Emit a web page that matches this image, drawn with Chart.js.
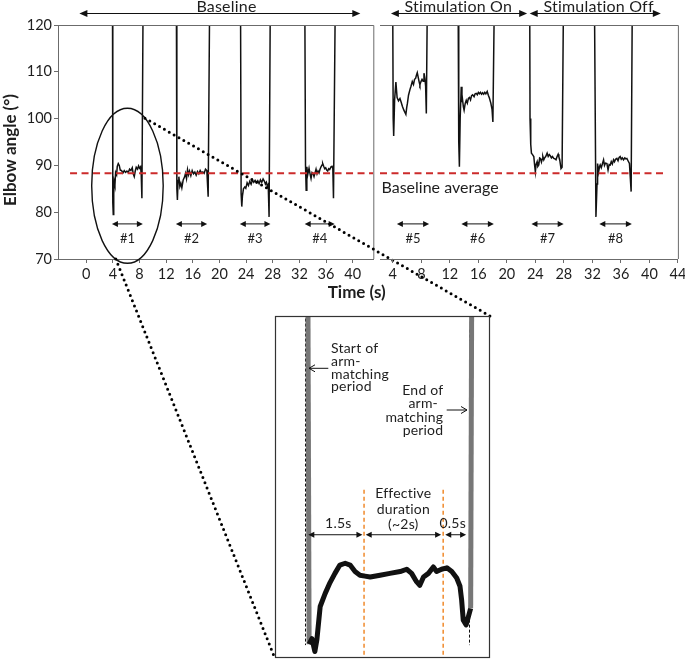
<!DOCTYPE html>
<html><head><meta charset="utf-8">
<script src="https://cdn.jsdelivr.net/npm/chart.js@4.4.1/dist/chart.umd.min.js"></script>
<style>
html,body{margin:0;padding:0;background:#fff;}
#wrap{position:relative;width:685px;height:660px;overflow:hidden;}
canvas{position:absolute;left:0;top:0;}
</style></head><body>
<div id="wrap">
<canvas id="cL" width="685" height="660"></canvas>
<canvas id="cR" width="685" height="660"></canvas>
<canvas id="cI" width="685" height="660"></canvas>
</div>
<script>
// ---------------- DATA ----------------
const yTicks = [70, 80, 90, 100, 110, 120];
const baselineTicks = [0, 4, 8, 12, 16, 20, 24, 28, 32, 36, 40];
const stimTicks = [4, 8, 12, 16, 20, 24, 28, 32, 36, 40, 44];
const baselineAverage = 88.3;

// Baseline trials (#1-#4)
const trial1Time = [3.93,3.98,4.05,4.12,4.2,4.3,4.4,4.55,4.65,4.8,4.95,5.1,5.3,5.5,5.7,5.9,6.1,6.3,6.5,6.7,6.9,7.05,7.2,7.35,7.5,7.7,7.85,8.0,8.15,8.25,8.35,8.55];
const trial1Angle = [130,82,79.5,84,86.5,85.8,88.5,88.0,89.8,90.4,90.0,89.0,88.9,88.4,88.9,88.5,88.8,88.5,89.2,88.9,89.5,88.2,87.6,88.8,89.6,89.2,89.9,89.4,89.7,88.0,83.0,130];
const trial2Time = [13.52,13.6,13.68,13.78,13.9,14.05,14.2,14.35,14.55,14.75,14.9,15.05,15.2,15.35,15.5,15.7,15.9,16.1,16.3,16.5,16.7,16.9,17.1,17.3,17.5,17.7,17.9,18.1,18.3,18.55];
const trial2Angle = [130,85,82.6,86.8,87.6,85.5,86.2,85.2,86.9,87.5,88.3,87.2,89.1,88.0,88.8,87.8,88.9,88.2,88.6,87.9,88.7,88.2,88.9,88.4,88.6,88.3,89.2,88.9,83.3,130];
const trial3Time = [23.15,23.25,23.35,23.45,23.6,23.8,23.95,24.15,24.35,24.55,24.75,24.95,25.15,25.35,25.55,25.75,25.95,26.15,26.35,26.55,26.75,26.9,27.05,27.2,27.32,27.45,27.65];
const trial3Angle = [130,84,81.2,83.5,85.0,85.4,85.1,86.3,85.7,86.6,86.0,86.9,86.4,86.8,86.3,86.7,86.1,86.9,86.4,87.1,86.6,86.0,86.4,85.5,85.9,79.0,130];
const trial4Time = [32.8,32.92,33.02,33.12,33.25,33.45,33.6,33.75,33.9,34.05,34.2,34.35,34.5,34.65,34.8,34.95,35.1,35.25,35.4,35.5,35.65,35.8,35.95,36.1,36.25,36.4,36.55,36.75,36.9,37.02,37.12,37.42];
const trial4Angle = [130,90,84.7,89.7,88.0,89.4,88.2,87.2,88.5,88.3,87.6,88.4,89.2,88.2,88.8,88.4,89.2,89.7,90.1,90.4,89.8,89.3,89.5,89.0,88.8,89.3,89.1,89.7,89.8,89.4,83.0,130];

// Stimulation trials (#5-#8)
const trial5Time = [3.97,4.05,4.12,4.25,4.43,4.6,4.8,5.0,5.15,5.35,5.55,5.7,5.83,5.95,6.05,6.2,6.4,6.55,6.73,6.9,7.05,7.2,7.3,7.43,7.55,7.7,7.8,7.95,8.1,8.25,8.37,8.5,8.6,8.7,8.87];
const trial5Angle = [130,100,96.3,104,107.8,104.5,103.8,104.3,103.6,102.6,101.8,101.3,100.9,102.4,103.3,105.0,106.2,106.9,107.9,107.3,108.4,108.6,109.2,109.8,108.9,107.8,107.2,107.9,108.4,108.0,109.7,108.6,107.0,101.1,130];
const trial6Time = [13.15,13.25,13.34,13.45,13.6,13.7,13.77,13.9,14.0,14.15,14.3,14.45,14.6,14.75,14.9,15.05,15.2,15.4,15.55,15.7,15.85,16.0,16.15,16.3,16.45,16.6,16.75,16.9,17.05,17.24,17.4,17.55,17.75,17.92,18.04,18.28];
const trial6Angle = [130,95,89.7,100,106.8,103.5,104.2,102.5,101.8,103.2,103.9,103.3,104.3,104.5,104.0,104.9,105.1,104.7,105.3,105.4,105.1,105.6,105.3,105.6,105.2,105.5,105.2,105.6,105.3,105.8,105.0,104.4,103.3,102.0,99.3,130];
const trial7Time = [23.2,23.25,23.35,23.45,23.6,23.78,23.9,24.0,24.1,24.25,24.35,24.48,24.6,24.71,24.85,24.95,25.05,25.18,25.3,25.45,25.65,25.8,25.95,26.11,26.25,26.4,26.58,26.75,26.9,27.05,27.2,27.3,27.41,27.6,27.75,27.97];
const trial7Angle = [130,100,94.5,92.6,92.3,91.9,90.0,88.6,90.2,90.8,89.8,90.1,91.6,91.5,90.7,91.3,91.9,91.2,91.6,91.9,92.6,91.9,92.3,92.0,91.6,91.9,91.5,91.4,91.2,91.9,92.4,91.8,91.3,89.3,89.6,130];
const trial8Time = [32.27,32.5,32.65,32.73,32.87,33.0,33.1,33.25,33.4,33.57,33.7,33.85,34.04,34.2,34.35,34.5,34.65,34.8,34.97,35.1,35.25,35.44,35.6,35.75,35.9,36.05,36.2,36.37,36.55,36.7,36.84,37.0,37.2,37.44,37.62];
const trial8Angle = [130,79.0,86,90.4,88.6,89.7,90.1,89.5,90.3,91.2,90.0,90.5,90.4,89.0,90.2,90.1,90.8,90.3,91.2,90.8,91.3,91.5,91.0,91.7,91.9,91.3,91.6,91.2,91.6,91.4,91.5,91.0,90.4,84.4,130];

// trial period markers (double arrows) and labels
const baselineTrialLabels = ['#1', '#2', '#3', '#4'];
const baselineTrialFrom = [3.85, 13.45, 23.05, 32.8];
const baselineTrialTo = [8.5, 18.15, 27.65, 37.3];
const stimTrialLabels = ['#5', '#6', '#7', '#8'];
const stimTrialFrom = [4.57, 13.62, 23.45, 32.97];
const stimTrialTo = [9.09, 18.18, 27.97, 37.54];
const trialArrowAngle = 77.5;
const trialLabelAngle = 74.4;

// phases
const leftPhaseLabels = ['Baseline'];
const leftPhaseFrom = [-1.04];
const leftPhaseTo = [41.15];
const leftPhaseCenter = [21.05];
const rightPhaseLabels = ['Stimulation On', 'Stimulation Off'];
const rightPhaseFrom = [3.73, 23.2];
const rightPhaseTo = [22.85, 41.6];
const rightPhaseCenter = [13.18, 32.87];

// zoom ellipse around trial #1 (centre time/angle, radii time/angle)
const ellipseCentre = [6.18, 85.64];
const ellipseRadii = [5.37, 16.56];

// inset: trial #1 blown up (time from start of arm-matching, s)
const insetTime = [0.066,0.1,0.17,0.24,0.29,0.37,0.49,0.61,0.73,0.85,0.98,1.10,1.22,1.34,1.46,1.59,1.83,2.07,2.32,2.48,2.60,2.72,2.80,2.89,3.01,3.13,3.21,3.33,3.46,3.58,3.70,3.78,3.82,3.86,3.93,4.04,4.07];
const insetAngle = [125,80.6,81.2,79.8,81.1,84.7,86.1,87.3,88.3,89.2,89.4,89.2,88.5,88.1,88.0,87.9,88.1,88.3,88.5,88.75,88.3,87.4,87.0,87.9,88.3,89.0,88.5,88.75,88.9,88.5,87.8,86.9,85.4,83.2,82.7,84.5,125];
const insetPeriodBounds = [0, 4.0];
const insetEffectiveBounds = [1.44, 3.37];
const insetSpanFrom = [0.08, 1.48, 3.42];
const insetSpanTo = [1.40, 3.32, 3.93];

// ---------------- HELPERS ----------------
const FRAME = '#6b6b6b';
const TXT = '#1e1e1e';
const FONT = 'Lato, "Open Sans", sans-serif';
const toPts = (ts, vs) => ts.map((t, i) => ({x: t, y: vs[i]}));
const baselinePts = [].concat(toPts(trial1Time, trial1Angle), toPts(trial2Time, trial2Angle), toPts(trial3Time, trial3Angle), toPts(trial4Time, trial4Angle));
const stimPts = [].concat(toPts(trial5Time, trial5Angle), toPts(trial6Time, trial6Angle), toPts(trial7Time, trial7Angle), toPts(trial8Time, trial8Angle));

function noLig(ctx) { try { ctx.letterSpacing = '0.2px'; } catch (e) {} }
function head(ctx, x, y, dir, L, H) {
  ctx.beginPath(); ctx.moveTo(x, y); ctx.lineTo(x - dir * L, y - H); ctx.lineTo(x - dir * L, y + H); ctx.closePath(); ctx.fill();
}
function dblArrow(ctx, x1, x2, y, L, H) {
  ctx.beginPath(); ctx.moveTo(x1 + L * 0.6, y); ctx.lineTo(x2 - L * 0.6, y); ctx.stroke();
  head(ctx, x1, y, -1, L, H); head(ctx, x2, y, 1, L, H);
}
function openArrow(ctx, xFrom, xTo, y) {
  const dir = xTo > xFrom ? 1 : -1;
  ctx.beginPath(); ctx.moveTo(xFrom, y); ctx.lineTo(xTo, y);
  ctx.moveTo(xTo - dir * 6, y - 3.5); ctx.lineTo(xTo, y); ctx.lineTo(xTo - dir * 6, y + 3.5);
  ctx.stroke();
}
function xAxis(min, max, ticks) {
  return {type: 'linear', min, max,
    afterBuildTicks: s => { s.ticks = ticks.map(v => ({value: v})); },
    afterFit: s => { s.height = 30; s.paddingLeft = 0; s.paddingRight = 0; },
    grid: {display: true, drawOnChartArea: false, drawTicks: true, tickLength: 4, color: FRAME, lineWidth: 1},
    border: {display: true, color: FRAME, width: 1},
    ticks: {font: {family: FONT, size: 14.5}, color: TXT, padding: 3, maxRotation: 0, autoSkip: false}};
}
function trialMarks(ctx, chart, from, to, labels) {
  const xs = chart.scales.x, ys = chart.scales.y;
  ctx.save();
  ctx.strokeStyle = '#111'; ctx.fillStyle = '#111'; ctx.lineWidth = 1;
  const ya = ys.getPixelForValue(trialArrowAngle), yl = ys.getPixelForValue(trialLabelAngle);
  ctx.font = '13px ' + FONT; ctx.textAlign = 'center'; ctx.textBaseline = 'middle';
  from.forEach((f, i) => {
    const x1 = xs.getPixelForValue(f), x2 = xs.getPixelForValue(to[i]);
    dblArrow(ctx, x1, x2, ya, 6, 3);
    ctx.fillStyle = TXT; ctx.fillText(labels[i], (x1 + x2) / 2, yl); ctx.fillStyle = '#111';
  });
  ctx.restore();
}
function phaseMarks(ctx, chart, labels, from, to, centre) {
  const xs = chart.scales.x, top = chart.chartArea.top;
  ctx.save();
  ctx.strokeStyle = '#111'; ctx.fillStyle = '#111'; ctx.lineWidth = 1;
  labels.forEach((lab, i) => {
    dblArrow(ctx, xs.getPixelForValue(from[i]), xs.getPixelForValue(to[i]), top - 11.5, 8, 3.5);
    ctx.fillStyle = TXT; ctx.font = '16px ' + FONT; ctx.textAlign = 'center'; ctx.textBaseline = 'alphabetic';
    noLig(ctx);
    ctx.fillText(lab, xs.getPixelForValue(centre[i]), top - 13); ctx.fillStyle = '#111';
  });
  ctx.restore();
}

const INSET = {left: 275, top: 316, right: 490, bottom: 658};

// ---------------- LEFT PANEL ----------------
const leftPlugin = {
  id: 'leftDeco',
  afterDraw(chart) {
    const ctx = chart.ctx, a = chart.chartArea, xs = chart.scales.x, ys = chart.scales.y;
    ctx.save();
    ctx.strokeStyle = FRAME; ctx.lineWidth = 1;
    ctx.beginPath(); ctx.moveTo(a.left, a.top + 0.5); ctx.lineTo(a.right + 0.5, a.top + 0.5); ctx.lineTo(a.right + 0.5, a.bottom); ctx.stroke();
    ctx.restore();
    trialMarks(ctx, chart, baselineTrialFrom, baselineTrialTo, baselineTrialLabels);
    phaseMarks(ctx, chart, leftPhaseLabels, leftPhaseFrom, leftPhaseTo, leftPhaseCenter);
    // ellipse
    const cx = xs.getPixelForValue(ellipseCentre[0]), cy = ys.getPixelForValue(ellipseCentre[1]);
    const rx = xs.getPixelForValue(ellipseCentre[0] + ellipseRadii[0]) - cx;
    const ry = cy - ys.getPixelForValue(ellipseCentre[1] + ellipseRadii[1]);
    ctx.save();
    ctx.strokeStyle = '#111'; ctx.lineWidth = 1.4;
    ctx.beginPath(); ctx.ellipse(cx, cy, rx, ry, 0, 0, Math.PI * 2); ctx.stroke();
    // dotted connectors
    ctx.lineWidth = 3; ctx.lineCap = 'round'; ctx.setLineDash([0, 5.6]); ctx.strokeStyle = '#000';
    const a1 = 60.7 * Math.PI / 180, a2 = -109 * Math.PI / 180;
    ctx.beginPath();
    ctx.moveTo(cx + rx * Math.cos(a1), cy - ry * Math.sin(a1)); ctx.lineTo(INSET.right, INSET.top);
    ctx.moveTo(cx + rx * Math.cos(a2), cy - ry * Math.sin(a2)); ctx.lineTo(INSET.left - 1, INSET.bottom - 2);
    ctx.stroke();
    ctx.restore();
    // axis titles
    ctx.save();
    ctx.fillStyle = TXT; ctx.font = 'bold 17px ' + FONT;
    ctx.textAlign = 'center'; ctx.textBaseline = 'alphabetic';
    ctx.fillText('Time (s)', 356.7, 297.5);
    ctx.translate(11, 150); ctx.rotate(-Math.PI / 2);
    ctx.textBaseline = 'middle';
    ctx.fillText('Elbow angle (°)', 0, 0);
    ctx.restore();
  }
};

const chartL = new Chart(document.getElementById('cL'), {
  type: 'line',
  data: {datasets: [
    {data: [{x: -2.44, y: baselineAverage}, {x: 43.1, y: baselineAverage}], borderColor: '#cc2b2b', borderWidth: 2, borderDash: [7, 4.5], pointRadius: 0},
    {data: baselinePts, borderColor: '#111', borderWidth: 1.5, pointRadius: 0, tension: 0}
  ]},
  options: {
    responsive: false, animation: false, events: [],
    layout: {padding: {left: 0, top: 25, right: 311.7, bottom: 371}},
    plugins: {legend: {display: false}, tooltip: {enabled: false}},
    scales: {
      x: xAxis(-4.25, 43.1, baselineTicks),
      y: {type: 'linear', min: 70, max: 120,
        afterBuildTicks: s => { s.ticks = yTicks.map(v => ({value: v})); },
        afterFit: s => { s.width = 58; s.paddingTop = 0; s.paddingBottom = 0; },
        grid: {display: true, drawOnChartArea: false, drawTicks: true, tickLength: 4, color: FRAME},
        border: {display: true, color: FRAME, width: 1},
        ticks: {font: {family: FONT, size: 14.5}, color: TXT, padding: 2}}
    }
  },
  plugins: [leftPlugin]
});

// ---------------- RIGHT PANEL ----------------
const rightPlugin = {
  id: 'rightDeco',
  afterDraw(chart) {
    const ctx = chart.ctx, a = chart.chartArea, xs = chart.scales.x, ys = chart.scales.y;
    ctx.save();
    ctx.strokeStyle = FRAME; ctx.lineWidth = 1;
    ctx.beginPath(); ctx.moveTo(a.left, a.top + 0.5); ctx.lineTo(a.right + 0.5, a.top + 0.5); ctx.lineTo(a.right + 0.5, a.bottom); ctx.stroke();
    ctx.fillStyle = TXT; ctx.font = '16px ' + FONT; ctx.textAlign = 'left'; ctx.textBaseline = 'alphabetic';
    ctx.fillText('Baseline average', a.left + 1.5, ys.getPixelForValue(baselineAverage) + 19.5);
    ctx.restore();
    trialMarks(ctx, chart, stimTrialFrom, stimTrialTo, stimTrialLabels);
    phaseMarks(ctx, chart, rightPhaseLabels, rightPhaseFrom, rightPhaseTo, rightPhaseCenter);
  }
};
const chartR = new Chart(document.getElementById('cR'), {
  type: 'line',
  data: {datasets: [
    {data: [{x: 2.2, y: baselineAverage}, {x: 42.43, y: baselineAverage}], borderColor: '#cc2b2b', borderWidth: 2, borderDash: [7, 4.5], pointRadius: 0},
    {data: stimPts, borderColor: '#111', borderWidth: 1.5, pointRadius: 0, tension: 0}
  ]},
  options: {
    responsive: false, animation: false, events: [],
    layout: {padding: {left: 380, top: 25, right: 7.1, bottom: 371}},
    plugins: {legend: {display: false}, tooltip: {enabled: false}},
    scales: {
      x: xAxis(2.2, 44, stimTicks),
      y: {type: 'linear', min: 70, max: 120, display: false}
    }
  },
  plugins: [rightPlugin]
});

// ---------------- INSET ----------------
const insetPlugin = {
  id: 'insetDeco',
  beforeDatasetsDraw(chart) {
    const ctx = chart.ctx, xs = chart.scales.x, ys = chart.scales.y;
    ctx.save();
    ctx.fillStyle = '#fff';
    ctx.fillRect(INSET.left, INSET.top, INSET.right - INSET.left, INSET.bottom - INSET.top);
    ctx.strokeStyle = '#111'; ctx.lineWidth = 1; ctx.setLineDash([3, 2]);
    const topV = [116, 114.8];
    insetPeriodBounds.forEach((t, i) => {
      const x = Math.round(xs.getPixelForValue(t)) + 0.5;
      ctx.beginPath(); ctx.moveTo(x, ys.getPixelForValue(topV[i])); ctx.lineTo(x, ys.getPixelForValue(80.5)); ctx.stroke();
    });
    ctx.strokeStyle = '#f08a2c'; ctx.lineWidth = 1.5; ctx.setLineDash([4, 3]);
    insetEffectiveBounds.forEach(t => {
      const x = xs.getPixelForValue(t);
      ctx.beginPath(); ctx.moveTo(x, ys.getPixelForValue(97.4)); ctx.lineTo(x, INSET.bottom); ctx.stroke();
    });
    ctx.restore();
  },
  afterDraw(chart) {
    const ctx = chart.ctx, xs = chart.scales.x, ys = chart.scales.y;
    ctx.save();
    ctx.strokeStyle = '#333'; ctx.lineWidth = 1.2;
    ctx.strokeRect(INSET.left + 0.5, INSET.top + 0.5, INSET.right - INSET.left - 1, INSET.bottom - INSET.top - 1);
    ctx.strokeStyle = '#111'; ctx.fillStyle = '#111'; ctx.lineWidth = 1;
    const ya = ys.getPixelForValue(92.5);
    insetSpanFrom.forEach((f, i) => dblArrow(ctx, xs.getPixelForValue(f), xs.getPixelForValue(insetSpanTo[i]), ya, 6, 3));
    ctx.fillStyle = TXT; ctx.font = '14px ' + FONT; ctx.textBaseline = 'alphabetic';
    noLig(ctx);
    ctx.textAlign = 'left';
    ['Start of', 'arm-', 'matching', 'period'].forEach((s, i) => ctx.fillText(s, 331, 353 + i * 12.8));
    ctx.textAlign = 'right';
    ['End of', 'arm-', 'matching', 'period'].forEach((s, i) => ctx.fillText(s, i === 1 ? 438 : 443.3, 395 + i * 13.3));
    ctx.textAlign = 'center';
    ['Effective', 'duration', '(~2s)'].forEach((s, i) => ctx.fillText(s, 403.3, 498.3 + i * 15.5));
    ctx.fillText('1.5s', 338.3, 527.7);
    ctx.fillText('0.5s', 452.7, 527.7);
    ctx.lineWidth = 1; ctx.strokeStyle = '#111';
    openArrow(ctx, 328.3, 309, 368.3);
    openArrow(ctx, 446.7, 467, 410);
    ctx.restore();
  }
};
const chartI = new Chart(document.getElementById('cI'), {
  type: 'line',
  data: {datasets: [{
    data: toPts(insetTime, insetAngle), borderColor: '#111', borderWidth: 5, pointRadius: 0, tension: 0,
    borderJoinStyle: 'round', borderCapStyle: 'butt',
    segment: {borderColor: c => Math.abs(c.p1.parsed.y - c.p0.parsed.y) > 10 ? '#777' : '#111'}
  }]},
  options: {
    responsive: false, animation: false, events: [],
    layout: {padding: {left: INSET.left, top: INSET.top, right: 685 - INSET.right, bottom: 660 - INSET.bottom}},
    plugins: {legend: {display: false}, tooltip: {enabled: false}},
    scales: {
      x: {type: 'linear', display: false, min: -0.732, max: 4.512},
      y: {type: 'linear', display: false, min: 79.1, max: 116.28}
    }
  },
  plugins: [insetPlugin]
});
</script>
</body></html>
